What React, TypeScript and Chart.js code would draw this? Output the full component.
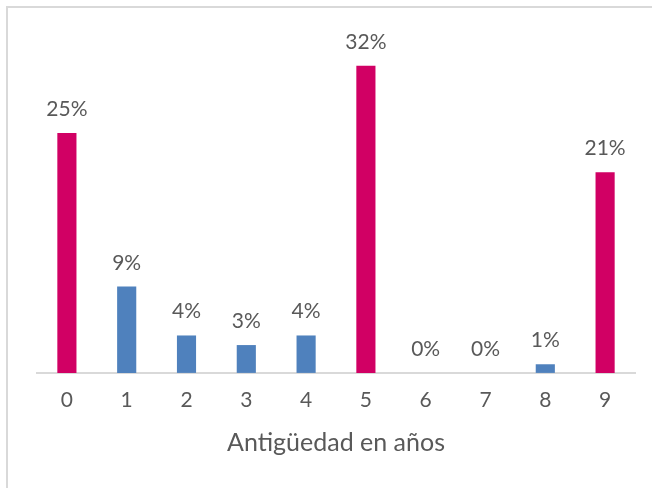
import React, { useEffect, useRef } from "react";
import { Chart, registerables } from "chart.js";

Chart.register(...registerables);

const categories = ["0", "1", "2", "3", "4", "5", "6", "7", "8", "9"];
const values = [25, 9, 3.9, 2.9, 3.9, 32, 0, 0, 0.9, 20.9];
const dataLabels = ["25%", "9%", "4%", "3%", "4%", "32%", "0%", "0%", "1%", "21%"];
const highlighted = [true, false, false, false, false, true, false, false, false, true];
const axisTitle = "Antigüedad en años";

const MAGENTA = "#D10064";
const BLUE = "#4F81BD";
const TEXT = "#595959";
const FONT = "Lato, 'Open Sans', sans-serif";

const labelPlugin = {
  id: "barLabels",
  afterDatasetsDraw(chart: any) {
    const ctx = chart.ctx;
    const meta = chart.getDatasetMeta(0);
    ctx.save();
    ctx.fillStyle = TEXT;
    ctx.font = `21px ${FONT}`;
    ctx.textAlign = "center";
    ctx.textBaseline = "alphabetic";
    meta.data.forEach((el: any, i: number) => {
      ctx.fillText(dataLabels[i], el.x, el.y - 17);
    });
    ctx.restore();
  },
};

export default function App() {
  const ref = useRef<HTMLCanvasElement | null>(null);
  useEffect(() => {
    if (!ref.current) return;
    const chart = new Chart(ref.current, {
      type: "bar",
      data: {
        labels: categories,
        datasets: [
          {
            data: values,
            backgroundColor: highlighted.map((h) => (h ? MAGENTA : BLUE)),
            borderWidth: 0,
            barPercentage: 0.32,
            categoryPercentage: 1,
          },
        ],
      },
      options: {
        animation: false,
        responsive: false,
        maintainAspectRatio: false,
        layout: { padding: { left: 37, right: 17, top: 37, bottom: 30 } },
        plugins: { legend: { display: false }, tooltip: { enabled: false } },
        scales: {
          x: {
            grid: { display: false, drawTicks: false },
            border: { display: true, color: "#D9D9D9", width: 2 },
            ticks: { color: TEXT, font: { family: FONT, size: 21, lineHeight: 1.1 }, padding: 16 },
            title: {
              display: true,
              text: axisTitle,
              color: TEXT,
              font: { family: FONT, size: 25 },
              padding: { top: 0, bottom: 0 },
            },
          },
          y: { display: false, min: 0, max: 35 },
        },
      },
      plugins: [labelPlugin],
    });
    return () => chart.destroy();
  }, []);
  return (
    <div style={{ position: "absolute", left: 0, top: 0, width: 652, height: 488, overflow: "hidden", background: "#fff" }}>
      <div
        style={{
          position: "absolute",
          left: 6,
          top: 6,
          width: 700,
          height: 600,
          border: "2px solid #D9D9D9",
        }}
      />
      <canvas ref={ref} width={652} height={488} style={{ position: "absolute", left: 0, top: 0 }} />
    </div>
  );
}
